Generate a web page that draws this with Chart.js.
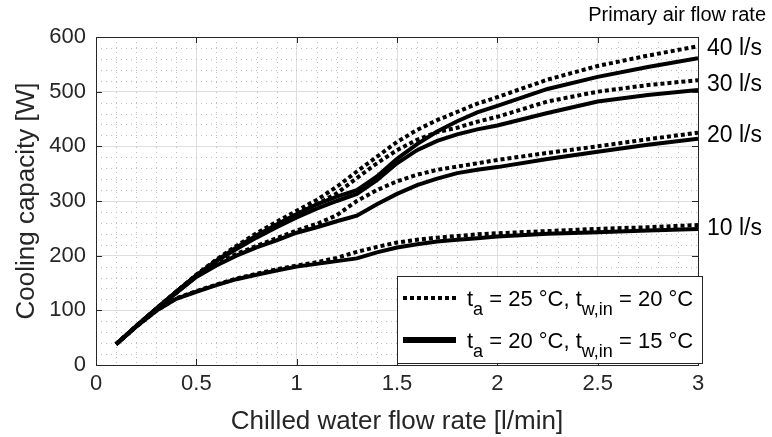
<!DOCTYPE html>
<html>
<head>
<meta charset="utf-8">
<script src="https://cdn.jsdelivr.net/npm/chart.js@4"></script>
<style>
  html, body { margin: 0; padding: 0; background: #fff; }
  #wrap { width: 772px; height: 437px; }
</style>
</head>
<body>
<div id="wrap"><canvas id="capChart" width="772" height="437"></canvas></div>
<script>
// chilled water flow rate [l/min]
const flowRate = [0.1, 0.2, 0.3, 0.4, 0.5, 0.6, 0.7, 0.8, 0.9, 1.0, 1.1, 1.2, 1.3, 1.4, 1.5, 1.6, 1.7, 1.8, 1.9, 2.0, 2.25, 2.5, 2.75, 3.0];

// ta = 20 °C, tw,in = 15 °C (solid)
const solid10 = [38, 70, 99, 121, 134, 146, 157, 165, 173, 180, 185, 190, 195, 206, 215, 221, 226, 229, 232, 235, 240, 243, 246, 249];
const solid20 = [38, 71, 102, 132, 161, 182, 200, 215, 228, 242, 252, 263, 273, 294, 313, 329, 341, 351, 357, 362, 377, 390, 403, 414];
const solid30 = [38, 71, 103, 134, 164, 190, 212, 233, 252, 270, 286, 300, 313, 338, 369, 393, 410, 422, 431, 438, 461, 482, 494, 503];
const solid40 = [38, 71, 103, 134, 164, 191, 215, 237, 257, 276, 294, 308, 320, 345, 377, 404, 427, 446, 462, 474, 505, 527, 545, 561];

// ta = 25 °C, tw,in = 20 °C (dotted)
const dotted10 = [38, 70, 99, 122, 135, 147, 158, 167, 175, 182, 188, 196, 207, 216, 224, 229, 233, 236, 239, 241, 245, 249, 252, 256];
const dotted20 = [38, 71, 102, 132, 162, 184, 203, 218, 232, 246, 258, 274, 300, 320, 336, 348, 357, 363, 369, 375, 388, 400, 413, 425];
const dotted30 = [38, 71, 103, 134, 165, 192, 216, 238, 258, 276, 294, 314, 342, 369, 393, 412, 426, 434, 445, 454, 482, 500, 512, 521];
const dotted40 = [38, 71, 103, 134, 165, 193, 218, 241, 262, 282, 302, 326, 354, 381, 408, 430, 448, 463, 478, 490, 522, 547, 566, 583];

const xTickLabels = ['0', '0.5', '1', '1.5', '2', '2.5', '3'];
const airFlowLabels = ['40 l/s', '30 l/s', '20 l/s', '10 l/s'];
const airFlowLabelY = [578, 513, 420, 250];

const FONT = '"Liberation Sans", Arial, Helvetica, sans-serif';
const AXIS_COLOR = '#262626';

function pts(ys) {
  return flowRate.map((x, i) => ({ x: x, y: ys[i] }));
}

function lineSet(ys, dotted) {
  return {
    data: pts(ys),
    borderColor: '#000',
    borderWidth: 4,
    borderDash: dotted ? [4, 3] : [],
    borderCapStyle: 'butt',
    borderJoinStyle: 'miter',
    pointRadius: 0,
    showLine: true,
    tension: 0,
    fill: false
  };
}

// minor dotted grid + inner tick marks + box
const matlabAxes = {
  id: 'matlabAxes',
  beforeDatasetsDraw(chart) {
    const { ctx, chartArea: a, scales: { x, y } } = chart;
    ctx.save();
    ctx.strokeStyle = '#bdbdbd';
    ctx.lineWidth = 1;
    ctx.setLineDash([1, 4]);
    for (let i = 1; i < 30; i++) {
      if (i % 5 === 0) continue;
      const px = Math.round(x.getPixelForValue(i / 10)) + 0.5;
      ctx.beginPath(); ctx.moveTo(px, a.top); ctx.lineTo(px, a.bottom); ctx.stroke();
    }
    for (let v = 20; v < 600; v += 20) {
      if (v % 100 === 0) continue;
      const py = Math.round(y.getPixelForValue(v)) + 0.5;
      ctx.beginPath(); ctx.moveTo(a.left, py); ctx.lineTo(a.right, py); ctx.stroke();
    }
    ctx.restore();
  },
  afterDatasetsDraw(chart) {
    const { ctx, chartArea: a, scales: { x, y } } = chart;
    ctx.save();
    ctx.strokeStyle = AXIS_COLOR;
    ctx.lineWidth = 1;
    ctx.setLineDash([]);
    const L = 6;
    x.ticks.forEach(t => {
      const px = Math.round(x.getPixelForValue(t.value)) + 0.5;
      ctx.beginPath();
      ctx.moveTo(px, a.bottom); ctx.lineTo(px, a.bottom - L);
      ctx.moveTo(px, a.top); ctx.lineTo(px, a.top + L);
      ctx.stroke();
    });
    y.ticks.forEach(t => {
      const py = Math.round(y.getPixelForValue(t.value)) + 0.5;
      ctx.beginPath();
      ctx.moveTo(a.left, py); ctx.lineTo(a.left + L, py);
      ctx.moveTo(a.right, py); ctx.lineTo(a.right - L, py);
      ctx.stroke();
    });
    ctx.strokeRect(Math.round(a.left) + 0.5, Math.round(a.top) + 0.5,
      Math.round(a.right - a.left), Math.round(a.bottom - a.top));
    ctx.restore();
  }
};

// "40 l/s" labels at the right end
const sideLabels = {
  id: 'sideLabels',
  afterDraw(chart) {
    const { ctx, scales: { x, y } } = chart;
    ctx.save();
    ctx.fillStyle = '#000';
    ctx.font = '23px ' + FONT;
    ctx.textAlign = 'left';
    ctx.textBaseline = 'middle';
    const px = x.getPixelForValue(3) + 9;
    airFlowLabels.forEach((s, i) => ctx.fillText(s, px, y.getPixelForValue(airFlowLabelY[i])));
    ctx.restore();
  }
};

// legend box with subscripts
const subLegend = {
  id: 'subLegend',
  afterDraw(chart) {
    const { ctx, chartArea: a } = chart;
    const w = 305, h = 87;
    const bx = Math.round(a.right) + 4 - w, by = Math.round(a.bottom) - 2 - h;
    ctx.save();
    ctx.fillStyle = '#fff';
    ctx.fillRect(bx, by, w, h);
    ctx.strokeStyle = AXIS_COLOR;
    ctx.lineWidth = 1;
    ctx.strokeRect(bx + 0.5, by + 0.5, w, h);

    const rows = [
      { dotted: true, t1: '25', t2: '20' },
      { dotted: false, t1: '20', t2: '15' }
    ];
    rows.forEach((r, i) => {
      const cy = by + 22 + i * 42;
      ctx.strokeStyle = '#000';
      ctx.lineCap = 'butt';
      if (r.dotted) {
        ctx.lineWidth = 4;
        ctx.setLineDash([4, 3]);
      } else {
        ctx.lineWidth = 6;
        ctx.setLineDash([]);
      }
      ctx.beginPath(); ctx.moveTo(bx + 6, cy); ctx.lineTo(bx + 59, cy); ctx.stroke();
      ctx.setLineDash([]);

      ctx.fillStyle = '#000';
      ctx.textBaseline = 'alphabetic';
      ctx.textAlign = 'left';
      const big = '22px ' + FONT, small = '18px ' + FONT;
      const base = cy + 8, subBase = cy + 17;
      let tx = bx + 70;
      const parts = [
        [big, 't', base], [small, 'a', subBase],
        [big, ' = ' + r.t1 + ' \u00B0C, t', base], [small, 'w,in', subBase],
        [big, ' = ' + r.t2 + ' \u00B0C', base]
      ];
      parts.forEach(p => {
        ctx.font = p[0];
        ctx.fillText(p[1], tx, p[2]);
        tx += ctx.measureText(p[1]).width;
      });
    });
    ctx.restore();
  }
};

const ctx = document.getElementById('capChart').getContext('2d');
const capChart = new Chart(ctx, {
  type: 'scatter',
  data: {
    datasets: [
      lineSet(solid10, false), lineSet(solid20, false), lineSet(solid30, false), lineSet(solid40, false),
      lineSet(dotted10, true), lineSet(dotted20, true), lineSet(dotted30, true), lineSet(dotted40, true)
    ]
  },
  options: {
    responsive: false,
    animation: false,
    layout: { padding: { left: 0, right: 6, top: 0, bottom: 0 } },
    scales: {
      x: {
        type: 'linear',
        min: 0,
        max: 3,
        ticks: {
          stepSize: 0.5,
          color: AXIS_COLOR,
          font: { family: FONT, size: 22 },
          padding: 6,
          maxRotation: 0,
          callback: (v, i) => xTickLabels[i]
        },
        grid: { color: '#dedede', drawTicks: false },
        border: { display: false },
        title: {
          display: true,
          text: 'Chilled water flow rate [l/min]',
          color: AXIS_COLOR,
          font: { family: FONT, size: 26 },
          padding: { top: 0, bottom: 0 }
        },
        afterFit: s => { s.height = 72; }
      },
      y: {
        type: 'linear',
        min: 0,
        max: 600,
        ticks: {
          stepSize: 100,
          color: AXIS_COLOR,
          font: { family: FONT, size: 22 },
          padding: 10
        },
        grid: { color: '#dedede', drawTicks: false },
        border: { display: false },
        title: {
          display: true,
          text: 'Cooling capacity [W]',
          color: AXIS_COLOR,
          font: { family: FONT, size: 26 },
          padding: { top: 11, bottom: 0 }
        },
        afterFit: s => { s.width = 96; }
      },
      yRight: {
        position: 'right',
        display: true,
        ticks: { display: false },
        grid: { display: false },
        border: { display: false },
        afterFit: s => { s.width = 68; }
      }
    },
    plugins: {
      legend: { display: false },
      tooltip: { enabled: false },
      title: {
        display: true,
        text: 'Primary air flow rate',
        align: 'end',
        color: '#000',
        font: { family: FONT, size: 20, weight: 'normal' },
        padding: { top: 3, bottom: 10 }
      }
    }
  },
  plugins: [matlabAxes, sideLabels, subLegend]
});
</script>
</body>
</html>
